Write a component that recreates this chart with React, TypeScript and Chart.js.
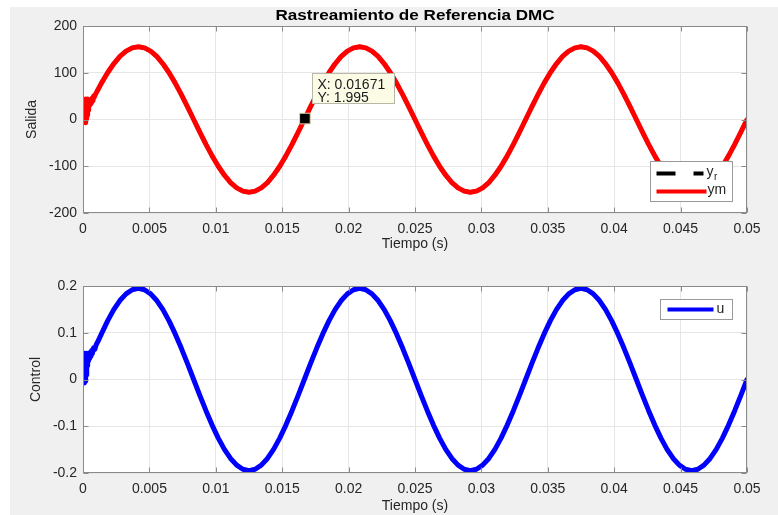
import React, { useEffect, useRef } from 'react';
import { Chart, registerables } from 'chart.js';

Chart.register(...registerables);

const FONT = '"Liberation Sans", Arial, Helvetica, sans-serif';

// ---------- data ----------
const timeS = [
  0, 0.000463, 0.000926, 0.001389, 0.001852, 0.002315, 0.002778, 0.003241, 0.003704, 0.004167,
  0.00463, 0.005093, 0.005556, 0.006019, 0.006481, 0.006944, 0.007407, 0.00787, 0.008333, 0.008796,
  0.009259, 0.009722, 0.010185, 0.010648, 0.011111, 0.011574, 0.012037, 0.0125, 0.012963, 0.013426,
  0.013889, 0.014352, 0.014815, 0.015278, 0.015741, 0.016204, 0.016667, 0.01713, 0.017593, 0.018056,
  0.018519, 0.018981, 0.019444, 0.019907, 0.02037, 0.020833, 0.021296, 0.021759, 0.022222, 0.022685,
  0.023148, 0.023611, 0.024074, 0.024537, 0.025, 0.025463, 0.025926, 0.026389, 0.026852, 0.027315,
  0.027778, 0.028241, 0.028704, 0.029167, 0.02963, 0.030093, 0.030556, 0.031019, 0.031481, 0.031944,
  0.032407, 0.03287, 0.033333, 0.033796, 0.034259, 0.034722, 0.035185, 0.035648, 0.036111, 0.036574,
  0.037037, 0.0375, 0.037963, 0.038426, 0.038889, 0.039352, 0.039815, 0.040278, 0.040741, 0.041204,
  0.041667, 0.04213, 0.042593, 0.043056, 0.043519, 0.043981, 0.044444, 0.044907, 0.04537, 0.045833,
  0.046296, 0.046759, 0.047222, 0.047685, 0.048148, 0.048611, 0.049074, 0.049537, 0.05,
];

const yrValues = [
  0, 27.0, 53.2, 77.8, 100.0, 119.2, 134.8, 146.2, 153.2, 155.6, 153.2, 146.2, 134.8, 119.2, 100.0, 77.8, 53.2, 27.0,
  0, -27.0, -53.2, -77.8, -100.0, -119.2, -134.8, -146.2, -153.2, -155.6, -153.2, -146.2, -134.8, -119.2, -100.0, -77.8, -53.2, -27.0,
  0, 27.0, 53.2, 77.8, 100.0, 119.2, 134.8, 146.2, 153.2, 155.6, 153.2, 146.2, 134.8, 119.2, 100.0, 77.8, 53.2, 27.0,
  0, -27.0, -53.2, -77.8, -100.0, -119.2, -134.8, -146.2, -153.2, -155.6, -153.2, -146.2, -134.8, -119.2, -100.0, -77.8, -53.2, -27.0,
  0, 27.0, 53.2, 77.8, 100.0, 119.2, 134.8, 146.2, 153.2, 155.6, 153.2, 146.2, 134.8, 119.2, 100.0, 77.8, 53.2, 27.0,
  0, -27.0, -53.2, -77.8, -100.0, -119.2, -134.8, -146.2, -153.2, -155.6, -153.2, -146.2, -134.8, -119.2, -100.0, -77.8, -53.2, -27.0,
  0,
];

const ymStartTime = [
  0, 0.00002, 0.00004, 0.00006, 0.00008, 0.0001, 0.00012, 0.00014, 0.00016, 0.00018,
  0.0002, 0.00022, 0.00024, 0.00026, 0.00028, 0.0003, 0.00032, 0.00034, 0.00036, 0.00038,
  0.0004, 0.00045, 0.0005, 0.00055, 0.0006, 0.00065, 0.0007, 0.00075, 0.0008, 0.00085,
];
const ymStartValues = [
  2, 30, -4, 38, 0, 42, -6, 40, 5, 44,
  -7, 38, 8, 42, 2, 40, 10, 44, 15, 40,
  20, 38, 30, 34, 42, 36, 46, 40, 50, 48,
];

const uValues = [
  0, 0.0339, 0.0667, 0.0975, 0.1253, 0.1494, 0.1689, 0.1832, 0.192, 0.195, 0.192, 0.1832, 0.1689, 0.1494, 0.1253, 0.0975, 0.0667, 0.0339,
  0, -0.0339, -0.0667, -0.0975, -0.1253, -0.1494, -0.1689, -0.1832, -0.192, -0.195, -0.192, -0.1832, -0.1689, -0.1494, -0.1253, -0.0975, -0.0667, -0.0339,
  0, 0.0339, 0.0667, 0.0975, 0.1253, 0.1494, 0.1689, 0.1832, 0.192, 0.195, 0.192, 0.1832, 0.1689, 0.1494, 0.1253, 0.0975, 0.0667, 0.0339,
  0, -0.0339, -0.0667, -0.0975, -0.1253, -0.1494, -0.1689, -0.1832, -0.192, -0.195, -0.192, -0.1832, -0.1689, -0.1494, -0.1253, -0.0975, -0.0667, -0.0339,
  0, 0.0339, 0.0667, 0.0975, 0.1253, 0.1494, 0.1689, 0.1832, 0.192, 0.195, 0.192, 0.1832, 0.1689, 0.1494, 0.1253, 0.0975, 0.0667, 0.0339,
  0, -0.0339, -0.0667, -0.0975, -0.1253, -0.1494, -0.1689, -0.1832, -0.192, -0.195, -0.192, -0.1832, -0.1689, -0.1494, -0.1253, -0.0975, -0.0667, -0.0339,
  0,
];

const uStartTime = [
  0, 0.00002, 0.00004, 0.00006, 0.00008, 0.0001, 0.00012, 0.00014, 0.00016, 0.00018,
  0.0002, 0.00022, 0.00024, 0.00026, 0.00028, 0.0003, 0.00032, 0.00034, 0.00036, 0.00038,
  0.0004, 0.00045, 0.0005, 0.00055, 0.0006, 0.00065, 0.0007, 0.0008, 0.0009, 0.001, 0.0011,
];
const uStartValues = [
  0.025, 0.05, 0.0, 0.055, -0.005, 0.052, -0.007, 0.056, 0.0, 0.05,
  -0.004, 0.055, 0.01, 0.05, 0.02, 0.056, 0.03, 0.05, 0.035, 0.055,
  0.04, 0.05, 0.045, 0.058, 0.05, 0.062, 0.055, 0.068, 0.065, 0.075, 0.08,
];

const xTickValues = [0, 0.005, 0.01, 0.015, 0.02, 0.025, 0.03, 0.035, 0.04, 0.045, 0.05];
const xTickLabels = ['0', '0.005', '0.01', '0.015', '0.02', '0.025', '0.03', '0.035', '0.04', '0.045', '0.05'];
const salidaTickValues = [-200, -100, 0, 100, 200];
const salidaTickLabels = ['-200', '-100', '0', '100', '200'];
const controlTickValues = [-0.2, -0.1, 0, 0.1, 0.2];
const controlTickLabels = ['-0.2', '-0.1', '0', '0.1', '0.2'];

const tipX = 0.01671;
const tipY = 1.995;
const tipLines = ['X: 0.01671', 'Y: 1.995'];

const chartTitle = 'Rastreamiento de Referencia DMC';

// ---------- helpers ----------
const pts = (t: number[], v: number[]) => t.map((x, i) => ({ x, y: v[i] }));

const yrPoints = pts(timeS, yrValues);
const ymPoints = [
  ...pts(ymStartTime, ymStartValues),
  ...yrPoints.filter((p) => p.x > ymStartTime[ymStartTime.length - 1]),
];
const uPoints = [
  ...pts(uStartTime, uStartValues),
  ...pts(timeS, uValues).filter((p) => p.x > uStartTime[uStartTime.length - 1]),
];

const FRAME = '#8a8a8a';
const GRID = '#e6e6e6';
const TEXT = '#262626';

function extrasPlugin(kind: 'top' | 'bottom') {
  return {
    id: 'extras_' + kind,
    beforeDraw(chart: any) {
      const { ctx, chartArea: a } = chart;
      ctx.save();
      ctx.fillStyle = '#ffffff';
      ctx.fillRect(a.left, a.top, a.right - a.left, a.bottom - a.top);
      ctx.restore();
    },
    afterDraw(chart: any) {
      const { ctx, chartArea: a } = chart;
      const xs = chart.scales.x;
      const ys = chart.scales.y;
      const L = Math.round(a.left) + 0.5;
      const R = Math.round(a.right) - 0.5;
      const T = Math.round(a.top) + 0.5;
      const B = Math.round(a.bottom) - 0.5;
      ctx.save();
      // frame
      ctx.strokeStyle = FRAME;
      ctx.lineWidth = 1;
      ctx.strokeRect(L, T, R - L, B - T);
      // inner ticks
      ctx.beginPath();
      xs.ticks.forEach((tk: any) => {
        const px = Math.round(xs.getPixelForValue(tk.value)) + 0.5;
        ctx.moveTo(px, B); ctx.lineTo(px, B - 5);
        ctx.moveTo(px, T); ctx.lineTo(px, T + 5);
      });
      ys.ticks.forEach((tk: any) => {
        const py = Math.round(ys.getPixelForValue(tk.value)) + 0.5;
        ctx.moveTo(L, py); ctx.lineTo(L + 5, py);
        ctx.moveTo(R, py); ctx.lineTo(R - 5, py);
      });
      ctx.stroke();

      ctx.textBaseline = 'middle';
      ctx.textAlign = 'left';
      if (kind === 'top') {
        // title (horizontally widened like the reference)
        ctx.save();
        ctx.fillStyle = '#000';
        ctx.font = 'bold 14px ' + FONT;
        ctx.translate((a.left + a.right) / 2, 16);
        ctx.scale(1.22, 1);
        ctx.textAlign = 'center';
        ctx.fillText(chartTitle, 0, 0);
        ctx.restore();

        // legend
        const lw = 82, lh = 40;
        const lx = Math.round(a.right) - 15 - lw + 0.5;
        const ly = Math.round(a.bottom) - 12 - lh + 0.5;
        ctx.fillStyle = '#fff';
        ctx.fillRect(lx, ly, lw, lh);
        ctx.strokeStyle = '#9a9a9a';
        ctx.strokeRect(lx, ly, lw, lh);
        ctx.lineWidth = 4;
        ctx.strokeStyle = '#000';
        ctx.setLineDash([19, 18]);
        ctx.beginPath();
        ctx.moveTo(lx + 6, ly + 12); ctx.lineTo(lx + 53, ly + 12);
        ctx.stroke();
        ctx.setLineDash([]);
        ctx.strokeStyle = '#ff0000';
        ctx.beginPath();
        ctx.moveTo(lx + 6, ly + 30); ctx.lineTo(lx + 56, ly + 30);
        ctx.stroke();
        ctx.fillStyle = TEXT;
        ctx.font = '14px ' + FONT;
        ctx.fillText('y', lx + 56, ly + 11);
        ctx.font = '10px ' + FONT;
        ctx.fillText('r', lx + 63.5, ly + 16);
        ctx.font = '14px ' + FONT;
        ctx.fillText('ym', lx + 57, ly + 29);

        // data tip box
        const px = xs.getPixelForValue(tipX);
        const py = ys.getPixelForValue(tipY);
        const bx = Math.round(px + 7) + 0.5;
        const by = Math.round(py - 46) + 0.5;
        ctx.lineWidth = 1;
        ctx.fillStyle = '#fcfce6';
        ctx.fillRect(bx, by, 82, 30);
        ctx.strokeStyle = '#b8b8a8';
        ctx.strokeRect(bx, by, 82, 30);
        ctx.fillStyle = '#1a1a1a';
        ctx.font = '14px ' + FONT;
        ctx.fillText(tipLines[0], bx + 5, by + 11.5);
        ctx.fillText(tipLines[1], bx + 5, by + 24.5);
      } else {
        const lw = 72, lh = 20;
        const lx = Math.round(a.right) - 15 - lw + 0.5;
        const ly = Math.round(a.top) + 13 + 0.5;
        ctx.fillStyle = '#fff';
        ctx.fillRect(lx, ly, lw, lh);
        ctx.strokeStyle = '#9a9a9a';
        ctx.strokeRect(lx, ly, lw, lh);
        ctx.lineWidth = 4;
        ctx.strokeStyle = '#0000ff';
        ctx.beginPath();
        ctx.moveTo(lx + 7, ly + 10); ctx.lineTo(lx + 53, ly + 10);
        ctx.stroke();
        ctx.fillStyle = TEXT;
        ctx.font = '14px ' + FONT;
        ctx.fillText('u', lx + 56, ly + 9.5);
      }
      ctx.restore();
    },
  };
}

function makeConfig(kind: 'top' | 'bottom'): any {
  const isTop = kind === 'top';
  const tickFont = { family: FONT, size: 14 };
  const lineStyle = { pointRadius: 0, tension: 0, borderJoinStyle: 'round', borderCapStyle: 'round' };
  const datasets: any[] = isTop
    ? [
        { label: 'tip', data: [{ x: tipX, y: tipY }], showLine: false, pointStyle: 'rect', pointRadius: 7.5, backgroundColor: '#000', borderColor: '#d9d6a8', borderWidth: 1, order: 0 },
        { label: 'ym', data: ymPoints, borderColor: '#ff0000', borderWidth: 5, ...lineStyle, order: 1 },
        { label: 'y_r', data: yrPoints, borderColor: '#000000', borderWidth: 4, borderDash: [10, 6], ...lineStyle, borderCapStyle: 'butt', order: 2 },
      ]
    : [{ label: 'u', data: uPoints, borderColor: '#0000ff', borderWidth: 5, ...lineStyle }];
  const yVals = isTop ? salidaTickValues : controlTickValues;
  const yLabels = isTop ? salidaTickLabels : controlTickLabels;
  return {
    type: 'line',
    data: { datasets },
    options: {
      animation: false,
      responsive: false,
      events: [],
      layout: { padding: { left: 0, right: 31, top: isTop ? 26 : 28, bottom: 0 } },
      plugins: { legend: { display: false }, tooltip: { enabled: false }, title: { display: false } },
      scales: {
        x: {
          type: 'linear',
          min: 0,
          max: 0.05,
          afterBuildTicks: (s: any) => { s.ticks = xTickValues.map((v) => ({ value: v })); },
          afterFit: (s: any) => { s.height = isTop ? 45 : 42; },
          ticks: { callback: (_v: any, i: number) => xTickLabels[i], padding: 8, font: tickFont, color: TEXT, maxRotation: 0, autoSkip: false },
          grid: { color: GRID, drawTicks: false },
          border: { display: false },
          title: { display: true, text: 'Tiempo (s)', font: tickFont, color: TEXT, padding: { top: 0, bottom: isTop ? 5 : 0 } },
        },
        y: {
          type: 'linear',
          min: yVals[0],
          max: yVals[yVals.length - 1],
          afterBuildTicks: (s: any) => { s.ticks = yVals.map((v) => ({ value: v })); },
          afterFit: (s: any) => { s.width = 83; },
          ticks: { callback: (_v: any, i: number) => yLabels[i], padding: 6, font: tickFont, color: TEXT, autoSkip: false },
          grid: { color: GRID, drawTicks: false },
          border: { display: false },
          title: { display: true, text: isTop ? 'Salida' : 'Control', font: tickFont, color: TEXT, padding: { top: isTop ? 24 : 28, bottom: 0 } },
        },
      },
    },
    plugins: [extrasPlugin(kind)],
  };
}

export default function App() {
  const topRef = useRef<HTMLCanvasElement>(null);
  const botRef = useRef<HTMLCanvasElement>(null);
  useEffect(() => {
    const c1 = new Chart(topRef.current as HTMLCanvasElement, makeConfig('top'));
    const c2 = new Chart(botRef.current as HTMLCanvasElement, makeConfig('bottom'));
    return () => {
      c1.destroy();
      c2.destroy();
    };
  }, []);
  return (
    <div style={{ position: 'absolute', left: 0, top: 0, width: 778, height: 515, background: '#ffffff', overflow: 'hidden' }}>
      <div style={{ position: 'absolute', left: 10, top: 7, right: 0, bottom: 0, background: '#f0f0f0' }} />
      <canvas ref={topRef} width={778} height={258} style={{ position: 'absolute', left: 0, top: 0, width: 778, height: 258 }} />
      <canvas ref={botRef} width={778} height={257} style={{ position: 'absolute', left: 0, top: 258, width: 778, height: 257 }} />
    </div>
  );
}
